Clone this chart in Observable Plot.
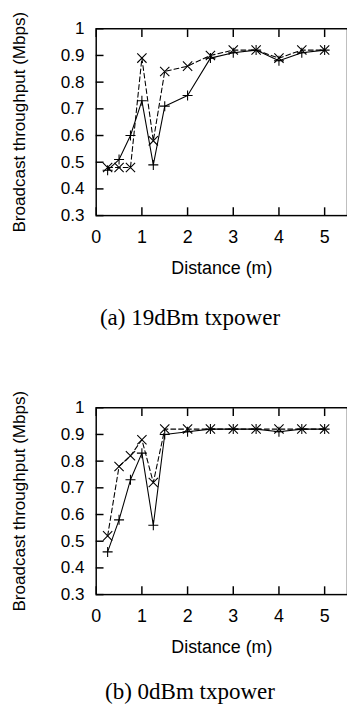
<!DOCTYPE html>
<html>
<head>
<meta charset="utf-8">
<script src="https://cdn.jsdelivr.net/npm/d3@7"></script>
<script src="https://cdn.jsdelivr.net/npm/@observablehq/plot@0.6"></script>
<style>
  html, body { margin: 0; padding: 0; background: #fff; overflow: hidden; }
  #page { position: relative; width: 347px; height: 706px; overflow: hidden; }
  .chart { position: absolute; left: 0; }
  .caption { position: absolute; left: 0; width: 380px; text-align: center;
    font-family: "Liberation Serif", serif; font-size: 23px; line-height: 24px; color: #000; }
</style>
</head>
<body>
<div id="page"></div>
<script>
// ---- data ----
const distance = [0.25, 0.5, 0.75, 1, 1.25, 1.5, 2, 2.5, 3, 3.5, 4, 4.5, 5];
const txA_plus  = [0.47, 0.51, 0.60, 0.73, 0.49, 0.71, 0.75, 0.89, 0.91, 0.92, 0.88, 0.91, 0.92];
const txA_times = [0.48, 0.48, 0.48, 0.89, 0.58, 0.84, 0.86, 0.90, 0.92, 0.92, 0.89, 0.92, 0.92];
const txB_plus  = [0.46, 0.58, 0.73, 0.83, 0.56, 0.90, 0.91, 0.92, 0.92, 0.92, 0.91, 0.92, 0.92];
const txB_times = [0.52, 0.78, 0.82, 0.88, 0.72, 0.92, 0.92, 0.92, 0.92, 0.92, 0.92, 0.92, 0.92];
const xTicks = [0, 1, 2, 3, 4, 5];
const yTicks = [0.3, 0.4, 0.5, 0.6, 0.7, 0.8, 0.9, 1];
const yLabel = "Broadcast throughput (Mbps)";
const xLabel = "Distance (m)";
const captions = ["(a) 19dBm txpower", "(b) 0dBm txpower"];

function makeChart(plusVals, timesVals) {
  const plus = distance.map((d, i) => ({d, v: plusVals[i]}));
  const times = distance.map((d, i) => ({d, v: timesVals[i]}));
  return Plot.plot({
    width: 356,
    height: 290,
    marginLeft: 98.2,
    marginRight: 0,
    marginTop: 29,
    marginBottom: 69.3,
    style: {fontFamily: "'Liberation Sans', Arial, sans-serif", fontSize: "17px", color: "#000", background: "transparent", overflow: "visible"},
    x: {domain: [0, 5.5]},
    y: {domain: [0.3, 1]},
    marks: [
      Plot.axisY({ticks: yTicks, tickSize: -8, tickPadding: 20, strokeWidth: 1.5, tickFormat: d => String(d),
        label: yLabel, labelAnchor: "center", labelArrow: "none", labelOffset: 86, fontSize: 17.5}),
      Plot.axisX({ticks: xTicks, tickSize: -8, tickPadding: 23.5, strokeWidth: 1.5, tickFormat: d => String(d),
        label: xLabel, labelAnchor: "center", labelArrow: "none", labelOffset: 60, fontSize: 18.3}),
      Plot.axisX({anchor: "top", ticks: xTicks, tickSize: -8, strokeWidth: 1.5, tickFormat: () => "", label: null}),
      Plot.frame({stroke: "#000", strokeWidth: 1.5}),
      Plot.line(times, {x: "d", y: "v", stroke: "#000", strokeWidth: 1.1, strokeDasharray: "5,3"}),
      Plot.line(plus, {x: "d", y: "v", stroke: "#000", strokeWidth: 1.1}),
      Plot.dot(times, {x: "d", y: "v", symbol: "times", r: 4.4, stroke: "#000", strokeWidth: 1.1}),
      Plot.dot(plus, {x: "d", y: "v", symbol: "plus", r: 3.4, stroke: "#000", strokeWidth: 1.1})
    ]
  });
}

const page = document.getElementById("page");
const c1 = makeChart(txA_plus, txA_times);
c1.classList.add("chart"); c1.style.top = "0px";
page.appendChild(c1);
const c2 = makeChart(txB_plus, txB_times);
c2.classList.add("chart"); c2.style.top = "379.4px";
page.appendChild(c2);

const cap1 = document.createElement("div");
cap1.className = "caption"; cap1.style.top = "306px"; cap1.textContent = captions[0];
page.appendChild(cap1);
const cap2 = document.createElement("div");
cap2.className = "caption"; cap2.style.top = "680px"; cap2.textContent = captions[1];
page.appendChild(cap2);
</script>
</body>
</html>
